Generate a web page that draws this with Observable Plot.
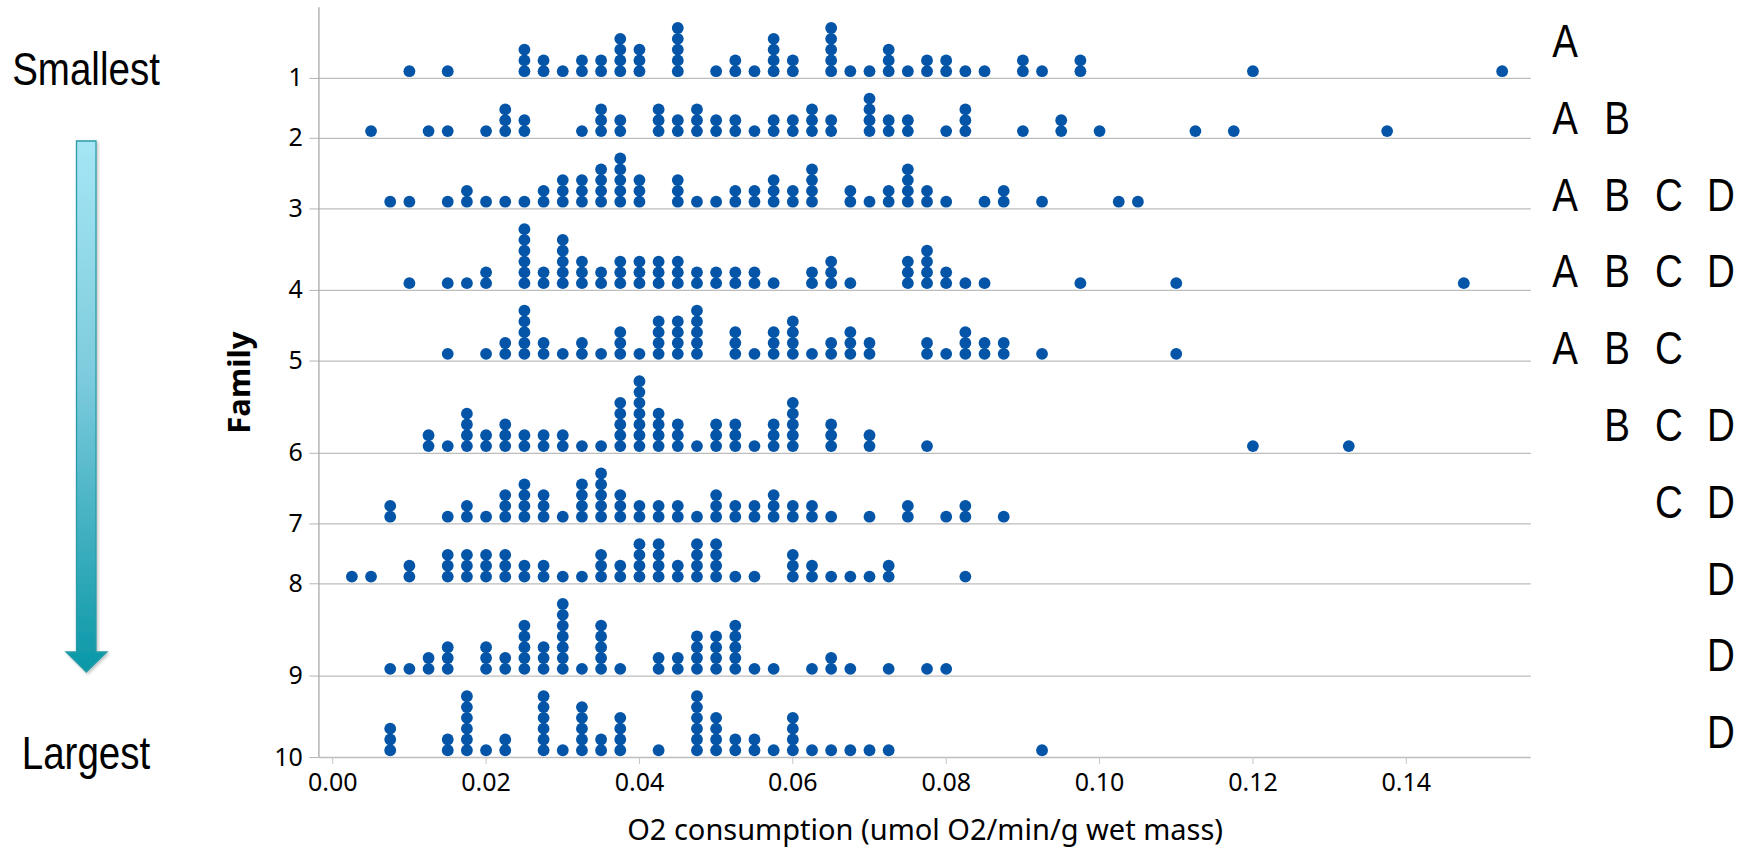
<!DOCTYPE html>
<html><head><meta charset="utf-8">
<script src="https://cdn.jsdelivr.net/npm/d3@7"></script>
<script src="https://cdn.jsdelivr.net/npm/@observablehq/plot@0.6"></script>
<style>
html,body{margin:0;padding:0;background:#fff;}
#wrap{position:relative;width:1750px;height:849px;overflow:hidden;}
#wrap svg{position:absolute;left:0;top:0;}
</style></head><body><div id="wrap"></div>
<script>
// ---- data ----
const families = [1, 2, 3, 4, 5, 6, 7, 8, 9, 10];
const groupLetters = [["A"], ["A","B"], ["A","B","C","D"], ["A","B","C","D"], ["A","B","C"], ["B","C","D"], ["C","D"], ["D"], ["D"], ["D"]];
const letterOrder = ["A", "B", "C", "D"];
const xTicks = [0, 0.02, 0.04, 0.06, 0.08, 0.10, 0.12, 0.14];
const xTitle = "O2 consumption (umol O2/min/g wet mass)";
const yTitle = "Family";
const topNote = "Smallest";
const bottomNote = "Largest";

// each entry: [O2 consumption value, number of fish (dots) at that value]
const family1 = [[0.0100,1],[0.0150,1],[0.0250,3],[0.0275,2],[0.0300,1],[0.0325,2],[0.0350,2],[0.0375,4],[0.0400,3],[0.0450,5],[0.0500,1],[0.0525,2],[0.0550,1],[0.0575,4],[0.0600,2],[0.0650,5],[0.0675,1],[0.0700,1],[0.0725,3],[0.0750,1],[0.0775,2],[0.0800,2],[0.0825,1],[0.0850,1],[0.0900,2],[0.0925,1],[0.0975,2],[0.1200,1],[0.1525,1]];
const family2 = [[0.0050,1],[0.0125,1],[0.0150,1],[0.0200,1],[0.0225,3],[0.0250,2],[0.0325,1],[0.0350,3],[0.0375,2],[0.0425,3],[0.0450,2],[0.0475,3],[0.0500,2],[0.0525,2],[0.0550,1],[0.0575,2],[0.0600,2],[0.0625,3],[0.0650,2],[0.0700,4],[0.0725,2],[0.0750,2],[0.0800,1],[0.0825,3],[0.0900,1],[0.0950,2],[0.1000,1],[0.1125,1],[0.1175,1],[0.1375,1]];
const family3 = [[0.0075,1],[0.0100,1],[0.0150,1],[0.0175,2],[0.0200,1],[0.0225,1],[0.0250,1],[0.0275,2],[0.0300,3],[0.0325,3],[0.0350,4],[0.0375,5],[0.0400,3],[0.0450,3],[0.0475,1],[0.0500,1],[0.0525,2],[0.0550,2],[0.0575,3],[0.0600,2],[0.0625,4],[0.0675,2],[0.0700,1],[0.0725,2],[0.0750,4],[0.0775,2],[0.0800,1],[0.0850,1],[0.0875,2],[0.0925,1],[0.1025,1],[0.1050,1]];
const family4 = [[0.0100,1],[0.0150,1],[0.0175,1],[0.0200,2],[0.0250,6],[0.0275,2],[0.0300,5],[0.0325,3],[0.0350,2],[0.0375,3],[0.0400,3],[0.0425,3],[0.0450,3],[0.0475,2],[0.0500,2],[0.0525,2],[0.0550,2],[0.0575,1],[0.0625,2],[0.0650,3],[0.0675,1],[0.0750,3],[0.0775,4],[0.0800,2],[0.0825,1],[0.0850,1],[0.0975,1],[0.1100,1],[0.1475,1]];
const family5 = [[0.0150,1],[0.0200,1],[0.0225,2],[0.0250,5],[0.0275,2],[0.0300,1],[0.0325,2],[0.0350,1],[0.0375,3],[0.0400,1],[0.0425,4],[0.0450,4],[0.0475,5],[0.0525,3],[0.0550,1],[0.0575,3],[0.0600,4],[0.0625,1],[0.0650,2],[0.0675,3],[0.0700,2],[0.0775,2],[0.0800,1],[0.0825,3],[0.0850,2],[0.0875,2],[0.0925,1],[0.1100,1]];
const family6 = [[0.0125,2],[0.0150,1],[0.0175,4],[0.0200,2],[0.0225,3],[0.0250,2],[0.0275,2],[0.0300,2],[0.0325,1],[0.0350,1],[0.0375,5],[0.0400,7],[0.0425,4],[0.0450,3],[0.0475,1],[0.0500,3],[0.0525,3],[0.0550,1],[0.0575,3],[0.0600,5],[0.0650,3],[0.0700,2],[0.0775,1],[0.1200,1],[0.1325,1]];
const family7 = [[0.0075,2],[0.0150,1],[0.0175,2],[0.0200,1],[0.0225,3],[0.0250,4],[0.0275,3],[0.0300,1],[0.0325,4],[0.0350,5],[0.0375,3],[0.0400,2],[0.0425,2],[0.0450,2],[0.0475,1],[0.0500,3],[0.0525,2],[0.0550,2],[0.0575,3],[0.0600,2],[0.0625,2],[0.0650,1],[0.0700,1],[0.0750,2],[0.0800,1],[0.0825,2],[0.0875,1]];
const family8 = [[0.0025,1],[0.0050,1],[0.0100,2],[0.0150,3],[0.0175,3],[0.0200,3],[0.0225,3],[0.0250,2],[0.0275,2],[0.0300,1],[0.0325,1],[0.0350,3],[0.0375,2],[0.0400,4],[0.0425,4],[0.0450,2],[0.0475,4],[0.0500,4],[0.0525,1],[0.0550,1],[0.0600,3],[0.0625,2],[0.0650,1],[0.0675,1],[0.0700,1],[0.0725,2],[0.0825,1]];
const family9 = [[0.0075,1],[0.0100,1],[0.0125,2],[0.0150,3],[0.0200,3],[0.0225,2],[0.0250,5],[0.0275,3],[0.0300,7],[0.0325,1],[0.0350,5],[0.0375,1],[0.0425,2],[0.0450,2],[0.0475,4],[0.0500,4],[0.0525,5],[0.0550,1],[0.0575,1],[0.0625,1],[0.0650,2],[0.0675,1],[0.0725,1],[0.0775,1],[0.0800,1]];
const family10 = [[0.0075,3],[0.0150,2],[0.0175,6],[0.0200,1],[0.0225,2],[0.0275,6],[0.0300,1],[0.0325,5],[0.0350,2],[0.0375,4],[0.0425,1],[0.0475,6],[0.0500,4],[0.0525,2],[0.0550,2],[0.0575,1],[0.0600,4],[0.0625,1],[0.0650,1],[0.0675,1],[0.0700,1],[0.0725,1],[0.0925,1]];

// ---- layout derived from data ----
const familyData = [family1, family2, family3, family4, family5, family6, family7, family8, family9, family10];
const rowPad = 1.54;     // extra room above each family's tallest stack (in dot units)
const dotLift = 0.67;    // bottom dot centre above the family's line (in dot units)
const maxStack = familyData.map(f => d3.max(f, d => d[1]));
let acc = 0;
const baselines = maxStack.map(m => (acc += m + rowPad));
const total = acc;
const dots = [];
familyData.forEach((f, i) => f.forEach(([v, n]) => {
  for (let k = 0; k < n; k++) dots.push({family: families[i], o2: v, y: baselines[i] - dotLift - k});
}));
const xDomain = [-0.0018, 0.1563];

const chart = Plot.plot({
  width: 1750, height: 849,
  marginLeft: 318.4, marginRight: 219.2, marginTop: 7.3, marginBottom: 92,
  style: {fontFamily: "'Noto Sans', 'Open Sans', sans-serif", fontSize: "25px", color: "#000", background: "transparent", overflow: "visible"},
  x: {domain: xDomain},
  y: {domain: [total, 0]},
  marks: [
    Plot.ruleY(baselines, {stroke: "#bdbdbd", strokeWidth: 1.3}),
    Plot.axisY({ticks: baselines, tickFormat: d => families[baselines.indexOf(d)], tickSize: 9, tickPadding: 7, stroke: "#b5b5b5", fill: "#000", fontSize: 25, label: null}),
    Plot.axisX({ticks: xTicks, tickFormat: d3.format(".2f"), tickSize: 7, tickPadding: 9, stroke: "#c6c6c6", fill: "#000", fontSize: 25, label: null}),
    Plot.ruleX([xDomain[0]], {stroke: "#a8a8a8", strokeWidth: 1.3}),
    Plot.dot(dots, {x: "o2", y: "y", r: 5.9, fill: "#0455a7"}),
    Plot.text([xTitle], {text: d => d, frameAnchor: "bottom", dy: 82, fontSize: 29}),
    Plot.text([yTitle], {text: d => d, frameAnchor: "left", textAnchor: "middle", dx: -79, rotate: -90, fontSize: 31, fontWeight: "bold"})
  ]
});
document.getElementById("wrap").appendChild(chart);

// ---- annotation overlay: size arrow and significance letters ----
const ov = d3.select("#wrap").append("svg")
  .attr("width", 1750).attr("height", 849)
  .style("pointer-events", "none");
const defs = ov.append("defs");
const grad = defs.append("linearGradient").attr("id", "arrowGrad").attr("x1", 0).attr("y1", 0).attr("x2", 0).attr("y2", 1);
grad.append("stop").attr("offset", 0).attr("stop-color", "#a6e6f5");
grad.append("stop").attr("offset", 0.45).attr("stop-color", "#7ccbdc");
grad.append("stop").attr("offset", 1).attr("stop-color", "#0a97a7");
const filt = defs.append("filter").attr("id", "shadow").attr("x", "-50%").attr("y", "-5%").attr("width", "200%").attr("height", "110%");
filt.append("feDropShadow").attr("dx", 1.5).attr("dy", 1.5).attr("stdDeviation", 1.8).attr("flood-color", "#000").attr("flood-opacity", 0.25);
ov.append("path")
  .attr("d", "M76.5,141 H96 V652 H107 L86.3,672 L66,652 H76.5 Z")
  .attr("fill", "url(#arrowGrad)")
  .attr("stroke", "#2a9ca7").attr("stroke-width", 1.3)
  .attr("filter", "url(#shadow)");

// narrow sans (Arial Narrow look): Liberation Sans squeezed horizontally
function narrowText(x, y, str) {
  ov.append("g").attr("transform", `translate(${x},${y}) scale(0.82,1)`)
    .append("text").attr("text-anchor", "middle")
    .attr("font-family", "'Liberation Sans', Arial, sans-serif")
    .attr("font-size", 47).attr("fill", "#000").text(str);
}
narrowText(86, 85, topNote);
narrowText(86, 769, bottomNote);
groupLetters.forEach((letters, i) => {
  letters.forEach(l => narrowText(1565 + letterOrder.indexOf(l) * 52, 57 + i * 76.8, l));
});
</script>
</body></html>
